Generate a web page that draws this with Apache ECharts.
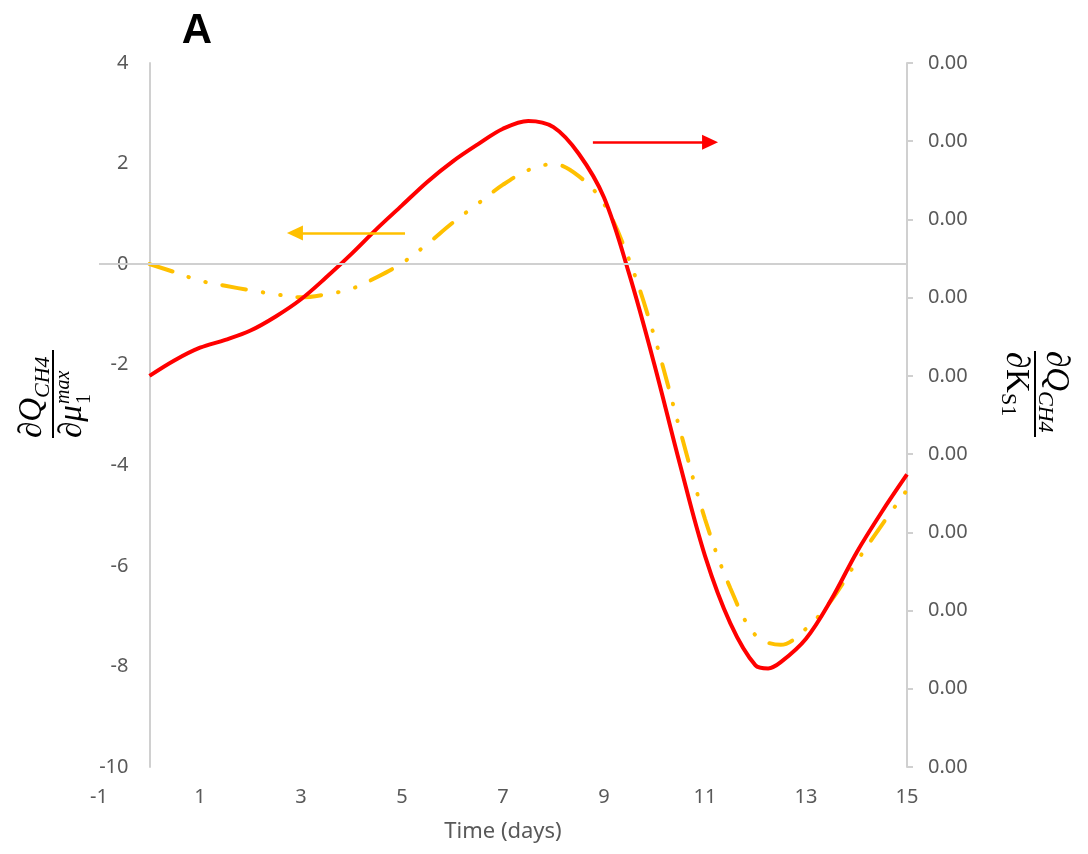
<!DOCTYPE html>
<html>
<head>
<meta charset="utf-8">
<script src="https://cdn.jsdelivr.net/npm/echarts@6/dist/echarts.min.js"></script>
<style>html,body{margin:0;padding:0;background:#fff;}#c{width:1088px;height:854px;}</style>
</head>
<body>
<div id="c"></div>
<script>
var yellowDays = [0,0.5,1,1.5,2,2.5,3,3.5,4,4.5,5,5.5,6,6.5,7,7.5,8,8.5,9,9.5,10,10.5,11,11.5,12,12.5,13,13.5,14,14.5,15];
var yellowSens = [0,-0.16,-0.33,-0.43,-0.52,-0.6,-0.66,-0.6,-0.49,-0.26,0.02,0.4,0.82,1.2,1.58,1.87,1.99,1.75,1.2,0.08,-1.45,-3.28,-5.07,-6.44,-7.38,-7.57,-7.25,-6.69,-5.92,-5.19,-4.49];
var redDays = [0,0.5,1,1.5,2,2.5,3,3.5,4,4.5,5,5.5,6,6.5,7,7.5,8,8.5,9,9.5,10,10.5,11,11.5,12,12.25,12.5,13,13.5,14,14.5,15];
var redSens = [-0.00100,-0.00090,-0.00082,-0.00077,-0.00071,-0.00062,-0.00051,-0.00037,-0.00022,-0.00006,0.00009,0.00024,0.00037,0.00048,0.00058,0.00063,0.00059,0.00042,0.00014,-0.00035,-0.00093,-0.00156,-0.00215,-0.00258,-0.00285,-0.00287,-0.00283,-0.00268,-0.00243,-0.00213,-0.00187,-0.00163];
var xTitle = 'Time (days)';
var panelLabel = 'A';

var chart = echarts.init(document.getElementById('c'), null, {renderer: 'canvas'});
var tickColor = '#595959';
var axisGray = '#d0d0d0';
var tickFont = 'Noto Sans';
var mathFont = 'Liberation Serif';

function t(txt, x, y, size, italic, va) {
  return {type: 'text', x: x, y: y, style: {text: txt, font: (italic ? 'italic ' : '') + size + 'px "' + mathFont + '"', fill: '#000', align: 'left', verticalAlign: va}};
}

var option = {
  animation: false,
  backgroundColor: '#fff',
  grid: {left: 99, right: 181, top: 63, bottom: 87, containLabel: false},
  xAxis: {
    type: 'value', min: -1, max: 15, interval: 2,
    axisLine: {show: false, onZero: false},
    axisTick: {show: false},
    splitLine: {show: false},
    axisLabel: {color: tickColor, fontFamily: tickFont, fontSize: 20, margin: 20},
    name: xTitle, nameLocation: 'middle', nameGap: 54,
    nameTextStyle: {color: tickColor, fontFamily: tickFont, fontSize: 22}
  },
  yAxis: [{
    type: 'value', min: -10, max: 4, interval: 2, offset: -50.5,
    axisLine: {show: true, onZero: false, lineStyle: {color: axisGray, width: 2}},
    axisTick: {show: false},
    splitLine: {show: false},
    axisLabel: {color: tickColor, fontFamily: tickFont, fontSize: 20, margin: 21}
  }, {
    type: 'value', position: 'right', min: -0.0035, max: 0.001, interval: 0.0005,
    axisLine: {show: true, onZero: false, lineStyle: {color: axisGray, width: 2}},
    axisTick: {show: true, inside: false, length: 6, lineStyle: {color: axisGray, width: 2}},
    splitLine: {show: false},
    axisLabel: {color: tickColor, fontFamily: tickFont, fontSize: 20, margin: 21,
      formatter: function (v) { return Math.abs(v).toFixed(2); }}
  }],
  series: [{
    name: 'mu', type: 'line', yAxisIndex: 0, smooth: 0.35, showSymbol: false, symbol: 'none',
    data: yellowDays.map(function (d, i) { return [d, yellowSens[i]]; }),
    lineStyle: {color: '#FFC000', width: 4, type: [24, 17, 0.5, 17, 0.5, 17], cap: 'round'},
    z: 3,
    markLine: {
      silent: true, animation: false, label: {show: false}, symbol: ['none', 'none'],
      emphasis: {disabled: true},
      data: [
        [{coord: [-1, 0], symbol: 'none', lineStyle: {color: axisGray, width: 2, type: 'solid'}},
         {coord: [15, 0], symbol: 'none'}],
        [{coord: [5.06, 0.62], symbol: 'none', lineStyle: {color: '#FFC000', width: 2.5, type: 'solid'}},
         {coord: [2.88, 0.62], symbol: 'triangle', symbolSize: [15, 16]}]
      ]
    }
  }, {
    name: 'Ks', type: 'line', yAxisIndex: 1, smooth: 0.35, showSymbol: false, symbol: 'none',
    data: redDays.map(function (d, i) { return [d, redSens[i]]; }),
    lineStyle: {color: '#FF0000', width: 4},
    z: 4,
    markLine: {
      silent: true, animation: false, label: {show: false}, symbol: ['none', 'none'],
      emphasis: {disabled: true},
      data: [
        [{coord: [8.78, 0.000494], symbol: 'none', lineStyle: {color: '#FF0000', width: 2.5, type: 'solid'}},
         {coord: [11.1, 0.000494], symbol: 'triangle', symbolSize: [15, 16]}]
      ]
    }
  }],
  graphic: [
    {type: 'text', x: 197, y: 31, style: {text: panelLabel, font: 'bold 42px "Liberation Sans"', fill: '#000', align: 'center', verticalAlign: 'middle'}},
    {type: 'group', x: 53, y: 394, rotation: Math.PI / 2, children: [
      {type: 'line', shape: {x1: -44, y1: 0, x2: 44, y2: 0}, style: {stroke: '#000', lineWidth: 2}},
      t('\u2202Q', -44, -4, 33, true, 'bottom'),
      t('CH4', -4, 1, 22, true, 'bottom'),
      t('\u2202\u03BC', -44, 3, 33, true, 'top'),
      t('max', -10, 1, 20, true, 'top'),
      t('1', -10, 22, 20, false, 'top')
    ]},
    {type: 'group', x: 1035, y: 394, rotation: -Math.PI / 2, children: [
      {type: 'line', shape: {x1: -43, y1: 0, x2: 43, y2: 0}, style: {stroke: '#000', lineWidth: 2}},
      t('\u2202Q', -43, -4, 33, true, 'bottom'),
      t('CH4', -3, 1, 22, true, 'bottom'),
      t('\u2202', -42, 3, 33, true, 'top'),
      t('K', -25, 3, 33, false, 'top'),
      t('S1', -1, 16, 22, false, 'top')
    ]}
  ]
};
chart.setOption(option);
</script>
</body>
</html>
